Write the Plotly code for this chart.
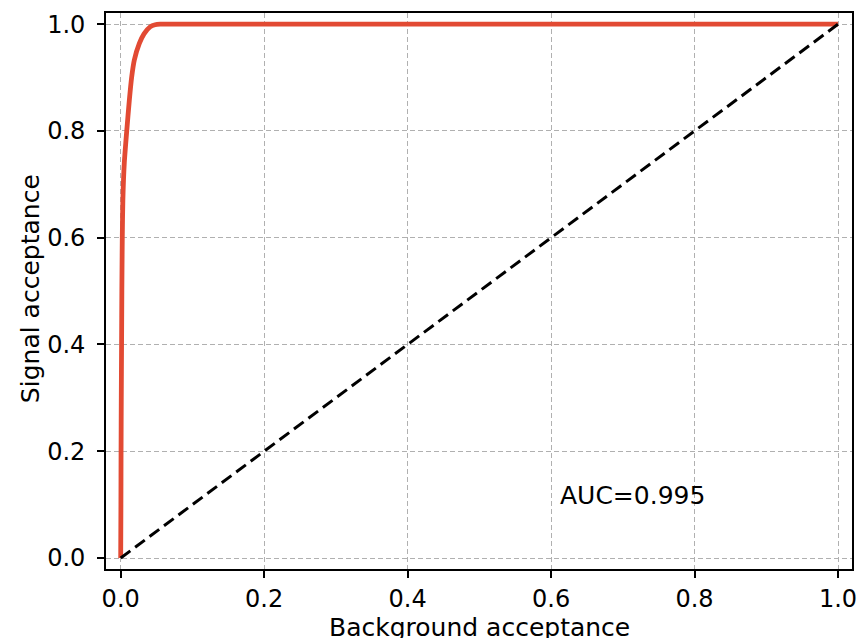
import plotly.graph_objects as go

# ROC curve
bkg_acc = [0.0, 0.0003, 0.0005, 0.0008, 0.0012, 0.0016, 0.0022, 0.003, 0.005, 0.0084, 0.012,
           0.0153, 0.019, 0.026, 0.0325, 0.041, 0.048, 0.055, 0.07, 0.2, 0.5, 1.0]
sig_acc = [0.0, 0.1, 0.2, 0.3, 0.4, 0.5, 0.6, 0.67, 0.74, 0.8, 0.857,
           0.901, 0.933, 0.964, 0.982, 0.995, 0.999, 1.0, 1.0, 1.0, 1.0, 1.0]
diag_x = [0.0, 1.0]
diag_y = [0.0, 1.0]
tick_vals = [0.0, 0.2, 0.4, 0.6, 0.8, 1.0]
tick_text = ["0.0", "0.2", "0.4", "0.6", "0.8", "1.0"]
auc_label = "AUC=0.995"
x_title = "Background acceptance"
y_title = "Signal acceptance"

FONT = "DejaVu Sans"

fig = go.Figure()
fig.add_trace(go.Scatter(x=bkg_acc, y=sig_acc, mode="lines",
                         line=dict(color="#e24a33", width=4.8, shape="spline", smoothing=0.6),
                         showlegend=False, hoverinfo="skip"))
fig.add_trace(go.Scatter(x=diag_x, y=diag_y, mode="lines",
                         line=dict(color="black", width=3, dash="12px,6px"),
                         showlegend=False, hoverinfo="skip"))

axis_common = dict(
    tickvals=tick_vals, ticktext=tick_text,
    showgrid=True, gridcolor="#b0b0b0", gridwidth=1.2, griddash="5px,3px",
    zeroline=False, showline=True, linecolor="black", linewidth=1.6, mirror=True,
    ticks="outside", ticklen=7, tickwidth=1.5, tickcolor="black",
    tickfont=dict(family=FONT, size=24, color="black"),
    automargin=False,
)

fig.update_xaxes(range=[-0.0205, 1.0195], ticklabelstandoff=0, **axis_common)
fig.update_yaxes(range=[-0.0206, 1.021], ticklabelstandoff=7, **axis_common)

fig.add_annotation(x=0.61, y=0.118, xref="x", yref="y", text=auc_label, showarrow=False,
                   xanchor="left", yanchor="middle", font=dict(family=FONT, size=25, color="black"))
fig.add_annotation(x=0.5, y=-0.1055, xref="paper", yref="paper", text=x_title, showarrow=False,
                   xanchor="center", yanchor="middle", font=dict(family=FONT, size=25, color="black"))
fig.add_annotation(x=-0.102, y=0.505, xref="paper", yref="paper", text=y_title, showarrow=False,
                   textangle=-90, xanchor="center", yanchor="middle",
                   font=dict(family=FONT, size=25, color="black"))

fig.update_layout(
    width=859, height=638,
    margin=dict(l=106, r=7, t=13, b=69, autoexpand=False),
    plot_bgcolor="white", paper_bgcolor="white",
    font=dict(family=FONT, color="black"),
)

fig.write_html("out.html", config={"displayModeBar": False},
               post_script="document.body.style.margin='0';")
